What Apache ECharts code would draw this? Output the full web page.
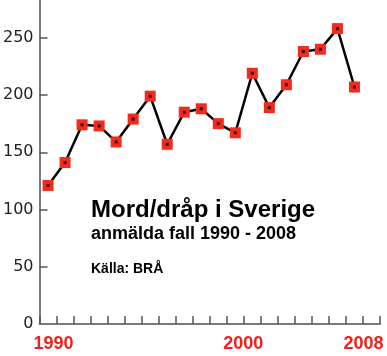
<!DOCTYPE html>
<html>
<head>
<meta charset="utf-8">
<script src="https://cdn.jsdelivr.net/npm/echarts@6/dist/echarts.min.js"></script>
<style>html,body{margin:0;padding:0;background:#fff;}#c{width:387px;height:356px;}</style>
</head>
<body>
<div id="c"></div>
<script>
var years = ['1990','1991','1992','1993','1994','1995','1996','1997','1998','1999','2000','2001','2002','2003','2004','2005','2006','2007','2008','2009'];
var cases = [121,141,174,173,159,179,199,157,185,188,175,167,219,189,209,238,240,258,207];
var yTicks = [0,50,100,150,200,250];
var shownYears = {'1990':'a','2000':'b','2008':'c'};
var titleText = 'Mord/dråp i Sverige';
var subText = 'anmälda fall 1990 - 2008';
var sourceText = 'Källa: BRÅ';

var chart = echarts.init(document.getElementById('c'), null, {renderer:'canvas'});
var FONT = '"Liberation Sans", Arial, sans-serif';
chart.setOption({
  animation: false,
  backgroundColor: '#ffffff',
  grid: {left: 36, right: 7, top: 0, bottom: 32, containLabel: false},
  xAxis: {
    type: 'category',
    data: years,
    boundaryGap: true,
    axisLine: {lineStyle: {color: '#7a7a7a', width: 2}},
    axisTick: {show: true, inside: true, length: 8, interval: 0, lineStyle: {color: '#555', width: 1.5}},
    axisLabel: {
      interval: 0,
      margin: 11,
      formatter: function (v) { var k = shownYears[v]; return k ? '{' + k + '|' + v + '}' : ''; },
      rich: {
        a: {fontFamily: FONT, fontWeight: 'bold', fontSize: 18, color: '#f0201c', padding: [0,0,0,11]},
        b: {fontFamily: FONT, fontWeight: 'bold', fontSize: 18, color: '#f0201c', padding: [0,0,0,50]},
        c: {fontFamily: FONT, fontWeight: 'bold', fontSize: 18, color: '#f0201c', padding: [0,0,0,18]}
      }
    },
    splitLine: {show: false}
  },
  yAxis: {
    type: 'value',
    min: 0,
    max: 283,
    axisLine: {show: true, lineStyle: {color: '#7a7a7a', width: 2}},
    axisTick: {show: true, inside: true, length: 8, customValues: yTicks.slice(1), lineStyle: {color: '#555', width: 1.5}},
    axisLabel: {customValues: yTicks, margin: 6, fontFamily: '"DejaVu Sans", sans-serif', fontSize: 16, color: '#222'},
    splitLine: {show: false}
  },
  series: [
    {
      type: 'line',
      data: cases,
      symbol: 'rect',
      symbolSize: 11,
      lineStyle: {color: '#000', width: 2.5},
      itemStyle: {color: '#f42a1a', borderWidth: 0},
      z: 2
    },
    {
      type: 'scatter',
      data: cases,
      symbol: 'rect',
      symbolSize: 3,
      itemStyle: {color: '#000'},
      z: 3
    }
  ],
  graphic: [
    {type: 'text', left: 91, top: 198, style: {text: titleText, font: 'bold 24px ' + FONT, fill: '#000'}},
    {type: 'text', left: 91, top: 225, style: {text: subText, font: 'bold 18px ' + FONT, fill: '#000'}},
    {type: 'text', left: 91, top: 262, style: {text: sourceText, font: 'bold 14px ' + FONT, fill: '#000'}}
  ]
});
</script>
</body>
</html>
